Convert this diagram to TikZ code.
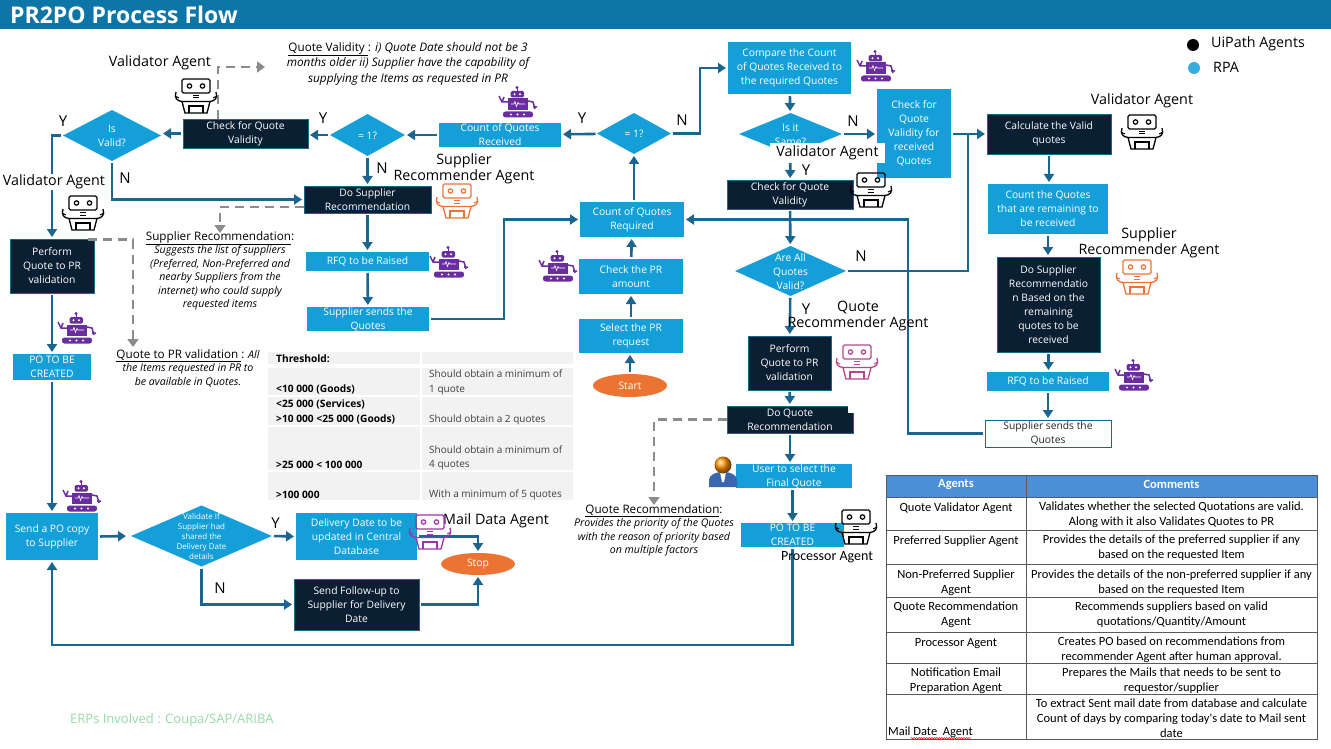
\documentclass[tikz,border=0pt]{standalone}
\usepackage{fontspec}
\setmainfont{Open Sans}
\newfontfamily\tablefont{Carlito}
\usetikzlibrary{arrows.meta, shapes.geometric, decorations.pathmorphing}

\definecolor{headblue}{HTML}{0E76A6}
\definecolor{rpablue}{HTML}{149FD8}
\definecolor{agentdark}{HTML}{0B1F33}
\definecolor{lineblue}{HTML}{1A6690}
\definecolor{dashgrey}{HTML}{8C8C8C}
\definecolor{botorange}{HTML}{E8743B}
\definecolor{botpink}{HTML}{B8468C}
\definecolor{botmail}{HTML}{A032A8}
\definecolor{botpurple}{HTML}{6A2DA0}
\definecolor{stoporange}{HTML}{EC7432}
\definecolor{erpgreen}{HTML}{93DCA6}
\definecolor{tablehead}{HTML}{4A8FD8}
\definecolor{tablegrid}{HTML}{555B60}
\definecolor{threshgrey}{HTML}{F2F2F2}
\definecolor{userblue}{HTML}{3A66AE}

\newcommand{\dtext}[1]{\smash{\makebox[0pt]{\raisebox{-.4em}{\begin{tabular}{@{}c@{}}#1\end{tabular}}}}}
\newcommand{\notehead}[1]{{\fontsize{11.7}{14}\selectfont\upshape #1}}

\tikzset{
  flowbox/.style={rectangle, inner sep=0pt, outer sep=0pt, align=center, text=white, font=\fontsize{10.3}{14}\selectfont},
  rpabox/.style={flowbox, fill=rpablue},
  agentbox/.style={flowbox, fill=agentdark, draw=lineblue, line width=0.8pt},
  decision/.style={diamond, fill=rpablue, inner sep=0pt, outer sep=0pt, text=white, font=\fontsize{10.3}{14}\selectfont},
  terminal/.style={ellipse, fill=stoporange, inner sep=0pt, outer sep=0pt, text=white, font=\fontsize{10.3}{14}\selectfont},
  flow/.style={draw=lineblue, line width=2.6pt, -{Triangle[length=8pt,width=10pt]}, shorten >=2pt, shorten <=2pt},
  plainflow/.style={draw=lineblue, line width=2.6pt, shorten <=2pt},
  dashflow/.style={draw=dashgrey, line width=2.8pt, dash pattern=on 9pt off 6pt, -{Triangle[length=8pt,width=11pt]}},
  branch/.style={inner sep=0pt, font=\fontsize{15}{17}\selectfont},
  agentname/.style={inner sep=0pt, align=center, font=\fontsize{14.3}{16}\selectfont},
  notetext/.style={inner sep=0pt, align=center, font=\fontsize{10.6}{13.5}\selectfont\itshape},
  threshcell/.style={inner sep=0pt, anchor=west, font=\fontsize{10}{12}\selectfont},
  tablecell/.style={inner sep=0pt, align=center, font=\tablefont\fontsize{12.5}{15}\selectfont},
  pics/agentbot/.style={code={
    \draw[#1, line width=1.3pt, rounded corners=1.5pt] (-14,-17) rectangle (14,-3);
    \draw[#1, line width=1.2pt] (-6.5,-10) circle (2.2) (6.5,-10) circle (2.2);
    \draw[#1, line width=1pt] (-3,-0.5) -- (3,-0.5) (-3,2) -- (3,2);
    \draw[#1, line width=1.3pt] (-14,5.5) -- (14,5.5) -- (11,17) -- (-11,17) -- cycle;
    \draw[#1, line width=1.2pt] (-7,17) -- (-7,10) -- (7,10) -- (7,17);
    \draw[#1, line width=1.3pt] (-14,5.5) .. controls (-19,5) and (-22,2) .. (-20,-4);
    \draw[#1, line width=1.3pt] (14,5.5) .. controls (19,5) and (22,2) .. (20,-4);
    \draw[#1, line width=1.1pt] (-21,0) -- (-17,2) (21,0) -- (17,2);
  }},
  pics/rpabot/.style={code={
    \fill[botpurple, rounded corners=1.5pt] (-6.5,-10) rectangle (7,-3.5);
    \draw[botpurple, line width=1pt] (0,-13) -- (0,-10);
    \fill[botpurple] (0,-13.5) circle (1.6);
    \fill[white] (-2.5,-6.8) circle (1.1) (3,-6.8) circle (1.1);
    \fill[botpurple] (-9,-2.5) rectangle (11,9);
    \draw[white, line width=0.6pt] (-6,3) -- (-3,3) -- (-2,0.5) -- (-0.5,5.5) -- (1,1.5) -- (2,3) -- (8,3);
    \fill[botpurple, rounded corners=2.5pt] (-14,10.5) rectangle (16,16.5);
    \fill[white] (-6,13.5) circle (1.1) (0.5,13.5) circle (1.1) (7,13.5) circle (1.1);
    \draw[botpurple, line width=1.5pt] (-9,1) -- (-15,1) -- (-18,-5) (-15,1) -- (-13,-4);
    \draw[botpurple, line width=1.5pt] (11,0) -- (16,1) -- (18,8) (16,6) -- (20,6);
  }},
  pics/userman/.style={code={
    \fill[userblue] (-14,15) -- (-14,9) .. controls (-14,2) and (-7,0) .. (0,0) .. controls (7,0) and (14,2) .. (14,9) -- (14,15) -- cycle;
    \fill[white] (-3,0) -- (3,0) -- (1,10) -- (-1,10) -- cycle;
    \shade[ball color=orange!85!yellow] (0,-7) circle (8.5);
  }}
}

\begin{document}
\begin{tikzpicture}[x=1pt, y=-1pt]
  \useasboundingbox (0,0) rectangle (1331,749);

  % Title band
  \fill[headblue] (0,0) rectangle (1331,29);
  \node[anchor=west, inner sep=0pt, text=white, font=\fontsize{23}{26}\selectfont\bfseries] (title) at (10,15) {PR2PO Process Flow};

  % Threshold table
  \foreach \ya/\yb in {352/363.5, 368/395, 397/425, 426.5/470, 472/500} {
    \fill[threshgrey] (268,\ya) rectangle (420,\yb);
    \fill[threshgrey] (422,\ya) rectangle (573,\yb);
  }
  \foreach \y/\txt [count=\i] in {359/Threshold:, 389.5/{<10 000 (Goods)}, 404.5/{<25 000 (Services)}, 419.5/{>10 000 <25 000 (Goods)}, 464.5/{>25 000 < 100 000}, 495/{>100 000}} {
    \node[threshcell, font=\fontsize{10.2}{12}\selectfont\bfseries] (limit\i) at (276,\y) {\txt};
  }
  \foreach \y/\txt [count=\i] in {374/Should obtain a minimum of, 390/1 quote, 420/Should obtain a 2 quotes, 449.5/Should obtain a minimum of, 465/4 quotes, 495/With a minimum of 5 quotes} {
    \node[threshcell, text=black!75] (rule\i) at (429,\y) {\txt};
  }

  % Steps of the upper left loop
  \node[agentbox, minimum width=125pt, minimum height=29pt] (checkvalid) at (245.5,133.5) {Check for Quote\\Validity};
  \node[decision, minimum width=75pt, minimum height=42pt] (eqleft) at (367.5,135) {\dtext{= 1?}};
  \node[rpabox, minimum width=122pt, minimum height=24pt] (countrecv) at (500,135) {Count of Quotes\\Received};
  \node[decision, minimum width=74pt, minimum height=41pt] (eqright) at (634,133.5) {\dtext{= 1?}};
  \node[decision, minimum width=98pt, minimum height=51pt] (isvalid) at (112,135.5) {\dtext{Is\\Valid?}};
  \node[agentbox, minimum width=127pt, minimum height=27pt] (dosupplier) at (367.5,199.5) {Do Supplier\\Recommendation};
  \node[agentbox, minimum width=84pt, minimum height=54pt] (performleft) at (52,266) {Perform\\Quote to PR\\validation};
  \node[rpabox, minimum width=78pt, minimum height=26pt] (poleft) at (52,367) {PO TO BE\\CREATED};
  \node[rpabox, minimum width=123pt, minimum height=19pt] (rfq) at (367.5,261.5) {RFQ to be Raised};
  \node[rpabox, minimum width=122pt, minimum height=24pt] (sends) at (368,319) {Supplier sends the\\Quotes};

  % Steps of the middle column
  \node[terminal, minimum width=74pt, minimum height=23pt] (start) at (630,385.5) {Start};
  \node[rpabox, minimum width=104pt, minimum height=34pt] (selectpr) at (631,336) {Select the PR\\request};
  \node[rpabox, minimum width=104pt, minimum height=35pt] (checkpr) at (631,276.5) {Check the PR\\amount};
  \node[rpabox, minimum width=104pt, minimum height=35pt] (countreq) at (632,219.5) {Count of Quotes\\Required};
  \node[rpabox, minimum width=123pt, minimum height=52pt] (compare) at (789.5,68) {Compare the Count\\of Quotes Received to\\the required Quotes};
  \node[decision, minimum width=103pt, minimum height=42pt] (issame) at (790.5,134) {\dtext{Is it\\Same?}};
  \node[agentbox, minimum width=126pt, minimum height=29pt] (checkquote) at (790,194.5) {Check for Quote\\Validity};
  \node[decision, minimum width=111pt, minimum height=50pt] (areall) at (790.5,271) {\dtext{Are All\\Quotes\\Valid?}};
  \node[agentbox, minimum width=83pt, minimum height=54pt] (performmid) at (789.5,363) {Perform\\Quote to PR\\validation};
  \node[agentbox, minimum width=126pt, minimum height=27pt] (doquote) at (790,419.5) {Do Quote\\Recommendation};
  \node[rpabox, minimum width=116pt, minimum height=24pt] (userselect) at (794,476) {User to select the\\Final Quote};
  \node[rpabox, minimum width=103pt, minimum height=24pt] (pomid) at (792.5,535) {PO TO BE\\CREATED};
  \fill[white] (848,405) rectangle (854,413);

  % Steps of the right column
  \node[rpabox, minimum width=74pt, minimum height=89pt] (recvcheck) at (914,133.5) {Check for\\Quote\\Validity for\\received\\Quotes};
  \node[agentbox, minimum width=124pt, minimum height=40pt] (calcvalid) at (1049,134) {Calculate the Valid\\quotes};
  \node[rpabox, minimum width=120pt, minimum height=50pt] (countremain) at (1048,209) {Count the Quotes\\that are remaining to\\be received};
  \node[agentbox, minimum width=103pt, minimum height=95pt] (dosupplierb) at (1048.5,304.5) {Do Supplier\\Recommendatio\\n Based on the\\remaining\\quotes to be\\received};
  \node[rpabox, minimum width=122pt, minimum height=19pt] (rfqb) at (1048,381.5) {RFQ to be Raised};
  \node[flowbox, text=black!85, fill=white, draw=lineblue, line width=0.8pt, minimum width=126pt, minimum height=27pt] (sendsb) at (1048,433.5) {Supplier sends the\\Quotes};

  % Steps of the bottom row
  \node[rpabox, minimum width=92pt, minimum height=47pt] (sendpo) at (52,536.5) {Send a PO copy\\to Supplier};
  \node[decision, font=\fontsize{8}{10}\selectfont, minimum width=141pt, minimum height=61pt] (validate) at (201.5,536) {\dtext{Validate If\\Supplier had\\shared the\\Delivery Date\\details}};
  \node[rpabox, minimum width=121pt, minimum height=47pt] (delivery) at (356.5,536.5) {Delivery Date to be\\updated in Central\\Database};
  \node[agentbox, minimum width=125pt, minimum height=51pt] (followup) at (356.5,604.5) {Send Follow-up to\\Supplier for Delivery\\Date};
  \node[terminal, minimum width=74pt, minimum height=22pt] (stop) at (478,564) {Stop};

  % Free ends of the connectors
  \coordinate (riseup) at (504,219.5);
  \coordinate (turnup) at (700,68);
  \coordinate (mergein) at (968,134);
  \coordinate (crossup) at (908,219.5);
  \coordinate (backrun) at (52,645);
  \coordinate (valtap) at (218,119);
  \coordinate (valend) at (265,67);
  \coordinate (suptap) at (304,207);
  \coordinate (perftap) at (88,239.5);
  \coordinate (perfend) at (133,347);

  % Connectors
  \draw[flow] (start.north) -- (start.north |- selectpr.south);
  \draw[flow] (selectpr) -- (checkpr);
  \draw[flow] (checkpr) -- (countreq);
  \draw[flow] (countreq.north -| eqright.south) -- (eqright.south);
  \draw[flow] (eqright) -- (countrecv);
  \draw[flow] (countrecv) -- (eqleft);
  \draw[flow] (eqleft) -- (eqleft -| checkvalid.east);
  \draw[flow] (checkvalid.west) -- (checkvalid.west -| isvalid.east);
  \draw[flow] (isvalid.west) -| (performleft.north);
  \draw[flow] (isvalid.south) |- (dosupplier.west);
  \draw[flow] (eqleft) -- (dosupplier);
  \draw[flow] (dosupplier) -- (rfq);
  \draw[flow] (rfq) -- (sends);
  \draw[flow] (sends.east) -| (riseup) -- (countreq.west);
  \draw[flow] (eqright.east) -| (turnup) -- (compare.west);
  \draw[flow] (compare) -- (issame);
  \draw[flow] (issame.east) -- (recvcheck.west |- issame.east);
  \draw[flow] (issame) -- (checkquote);
  \draw[flow] (checkquote) -- (areall);
  \draw[flow] (areall) -- (performmid);
  \draw[flow] (performmid) -- (doquote);
  \draw[flow] (doquote.south) -- (doquote.south |- userselect.north);
  \draw[flow] (userselect.south -| pomid.north) -- (pomid.north);
  \draw[flow] (pomid.south) |- (backrun) -- (sendpo.south);
  \draw[plainflow] (areall.east) -| (mergein);
  \draw[flow] (recvcheck.east |- calcvalid.west) -- (calcvalid.west);
  \draw[flow] (calcvalid.south) -- (calcvalid.south |- countremain.north);
  \draw[flow] (countremain.south) -- (countremain.south |- dosupplierb.north);
  \draw[flow] (dosupplierb.south) -- (dosupplierb.south |- rfqb.north);
  \draw[flow] (rfqb) -- (sendsb);
  \draw[flow] (sendsb.west) -| (crossup) -- (countreq.east);
  \draw[flow] (performleft) -- (poleft);
  \draw[flow] (poleft) -- (sendpo);
  \draw[flow, shorten >=5pt] (sendpo.east) -- (validate.west);
  \draw[flow] (validate.east) -- (delivery.west);
  \draw[flow] (validate.south) |- (followup.west);
  \draw[flow] (delivery.east) -| (stop.north);
  \draw[flow] (followup.east) -| (stop.south);

  % Notes
  \node[notetext, font=\fontsize{11.8}{15.5}\selectfont\itshape, anchor=north] (valnote) at (408,42) {\notehead{\underline{Quote Validity }:} i) Quote Date should not be 3\\months older ii) Supplier have the capability of\\supplying the Items as requested in PR};
  \node[notetext, anchor=north] (supnote) at (220,231) {\notehead{\underline{Supplier Recommendation}:}\\Suggests the list of suppliers\\(Preferred, Non-Preferred and\\nearby Suppliers from the\\internet) who could supply\\requested items};
  \node[notetext, anchor=north] (perfnote) at (188,349) {\notehead{\underline{Quote to PR validation }:} All\\the Items requested in PR to\\be available in Quotes.};
  \node[notetext, anchor=north] (recnote) at (654,504) {\notehead{\underline{Quote Recommendation}:}\\Provides the priority of the Quotes\\with the reason of priority based\\on multiple factors};

  % Dashed links to the notes
  \draw[dashflow] (valtap) |- (valend);
  \draw[dashflow] (suptap) -| ([yshift=-2pt]supnote.north);
  \draw[dashflow] (perftap) -| (perfend);
  \draw[dashflow] (doquote.west) -| ([yshift=-1pt]recnote.north);

  % Branch letters
  \foreach \x/\y/\txt [count=\i] in {323/118/Y, 382/168/N, 63/121/Y, 125/178/N, 582/118/Y, 682/120/N, 853/121/N, 806/170/Y, 861/256/N, 806/309/Y, 275.5/523/Y, 220/588/N} {
    \node[branch] (mark\i) at (\x,\y) {\txt};
  }

  % Agent names
  \node[agentname] (namea) at (160,63) {Validator Agent};
  \node[agentname, fill=white, inner ysep=1pt] (nameb) at (54,182) {Validator Agent};
  \node[agentname] (namec) at (464,169) {Supplier\\Recommender Agent};
  \node[agentname, fill=white, minimum width=115pt, minimum height=20pt] (named) at (827.5,153) {Validator Agent};
  \node[agentname] (namee) at (1142,101) {Validator Agent};
  \node[agentname] (namef) at (1149,243) {Supplier\\Recommender Agent};
  \node[agentname] (nameg) at (858,316) {Quote\\Recommender Agent};
  \node[agentname, anchor=west] (nameh) at (443,521) {Mail Data Agent};
  \node[agentname, font=\tablefont\fontsize{14}{16}\selectfont] (namei) at (827,557) {Processor Agent};

  % Robots
  \foreach \x/\y in {196/96, 83/213, 1142/132, 871/190, 856/527} {
    \pic at (\x,\y) {agentbot=black};
  }
  \foreach \x/\y in {457/201, 1137/277} {
    \pic at (\x,\y) {agentbot=botorange};
  }
  \pic at (857,362) {agentbot=botpink};
  \pic at (430,532) {agentbot=botmail};
  \foreach \x/\y in {517/101, 448/261, 557/265, 875/65, 76/327, 1133/374, 81/495} {
    \pic at (\x,\y) {rpabot};
  }
  \pic at (723,472) {userman};

  % Legend
  \node[circle, fill=black, inner sep=0pt, minimum size=12pt] (dotagent) at (1193,45) {};
  \node[circle, fill=rpablue!85, inner sep=0pt, minimum size=12pt] (dotrpa) at (1194,68) {};
  \node[agentname, anchor=west] (legendagent) at (1211,44) {UiPath Agents};
  \node[agentname, anchor=west] (legendrpa) at (1213,67) {RPA};

  % ERP remark
  \node[anchor=west, inner sep=0pt, text=erpgreen, font=\fontsize{13}{15}\selectfont] (erpnote) at (70,720) {ERPs Involved : Coupa/SAP/ARIBA};

  % Agents table
  \fill[tablehead] (886,475) rectangle (1317,497);
  \draw[tablegrid, line width=0.8pt] (886,475) rectangle (1317,739) (1026,475) -- (1026,739);
  \foreach \y in {497,530,564,597,632,663,694} {
    \draw[tablegrid, line width=0.8pt] (886,\y) -- (1317,\y);
  }
  \node[tablecell, text=white, font=\tablefont\fontsize{12.5}{15}\selectfont\bfseries] (headagent) at (956,484.5) {Agents};
  \node[tablecell, text=white, font=\tablefont\fontsize{12.5}{15}\selectfont\bfseries] (headcomment) at (1171.5,484.5) {Comments};
  \foreach \y/\agent/\comment [count=\i] in {
    514.5/{Quote Validator Agent\\\mbox{}}/{Validates whether the selected Quotations are valid.\\Along with it also Validates Quotes to PR},
    547.5/{Preferred Supplier Agent\\\mbox{}}/{Provides the details of the preferred supplier if any\\based on the requested Item},
    582.5/{Non-Preferred Supplier\\Agent}/{Provides the details of the non-preferred supplier if any\\based on the requested Item},
    614.5/{Quote Recommendation\\Agent}/{Recommends suppliers based on valid\\quotations/Quantity/Amount},
    649.5/{Processor Agent\\\mbox{}}/{Creates PO based on recommendations from\\recommender Agent after human approval.},
    680.5/{Notification Email\\Preparation Agent}/{Prepares the Mails that needs to be sent to\\requestor/supplier},
    718/{}/{To extract Sent mail date from database and calculate\\Count of days by comparing today's date to Mail sent\\date}} {
    \node[tablecell] (agent\i) at (956,\y) {\agent};
    \node[tablecell] (comment\i) at (1171.5,\y) {\comment};
  }
  \node[tablecell, anchor=west] (agentmail) at (888,732) {Mail Date~~Agent};
  \draw[red, line width=0.5pt, decorate, decoration={snake, amplitude=0.6pt, segment length=2.5pt}] (agentmail.south west) ++(23,0.5) -- ++(60,0);
\end{tikzpicture}
\end{document}
